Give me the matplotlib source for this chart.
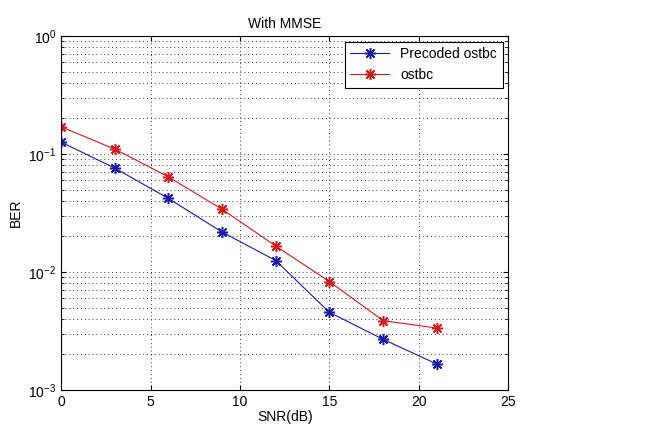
import matplotlib.pyplot as plt
import numpy as np

plt.rcParams['font.family'] = ['Liberation Sans', 'DejaVu Sans']

# ── data ──────────────────────────────────────────────
snr = [0, 3, 6, 9, 12, 15, 18, 21]
ber_precoded = [0.126, 0.076, 0.042, 0.0218, 0.0125, 0.00455, 0.00269, 0.00166]
ber_ostbc = [0.170, 0.110, 0.064, 0.034, 0.0166, 0.0083, 0.00387, 0.00335]

# ── plot ──────────────────────────────────────────────
fig = plt.figure(figsize=(6.5, 4.26), dpi=100)
ax = fig.add_axes([0.094, 0.0845, 0.688, 0.831])

ast = (8, 2, 0)  # MATLAB-style asterisk
ax.semilogy(snr, ber_precoded, color='#1a1aa8', marker=ast, markersize=8,
            markeredgewidth=1.1, lw=0.8, label='Precoded ostbc')
ax.semilogy(snr, ber_ostbc, color='#d01c1c', marker=ast, markersize=8,
            markeredgewidth=1.1, lw=0.8, label='ostbc')

ax.set_xlim(0, 25)
ax.set_ylim(1e-3, 1)
ax.set_xticks([0, 5, 10, 15, 20, 25])
grid_kw = dict(color='#333333', linestyle=(0, (1, 3)), linewidth=0.7)
ax.grid(True, which='major', **grid_kw)
ax.grid(True, which='minor', axis='y', **grid_kw)
ax.tick_params(which='both', direction='in', top=True, right=True, labelsize=10)
for s in ax.spines.values():
    s.set_linewidth(0.8)

ax.set_xlabel('SNR(dB)', fontsize=10, labelpad=1)
ax.set_ylabel('BER', fontsize=10)
ax.set_title('With MMSE', fontsize=10, pad=6)

leg = ax.legend(loc='upper right', fontsize=10, fancybox=False, framealpha=1,
                edgecolor='black', borderaxespad=0.4, handlelength=2.8)
leg.get_frame().set_linewidth(0.8)

plt.savefig('out.png', dpi=100)
